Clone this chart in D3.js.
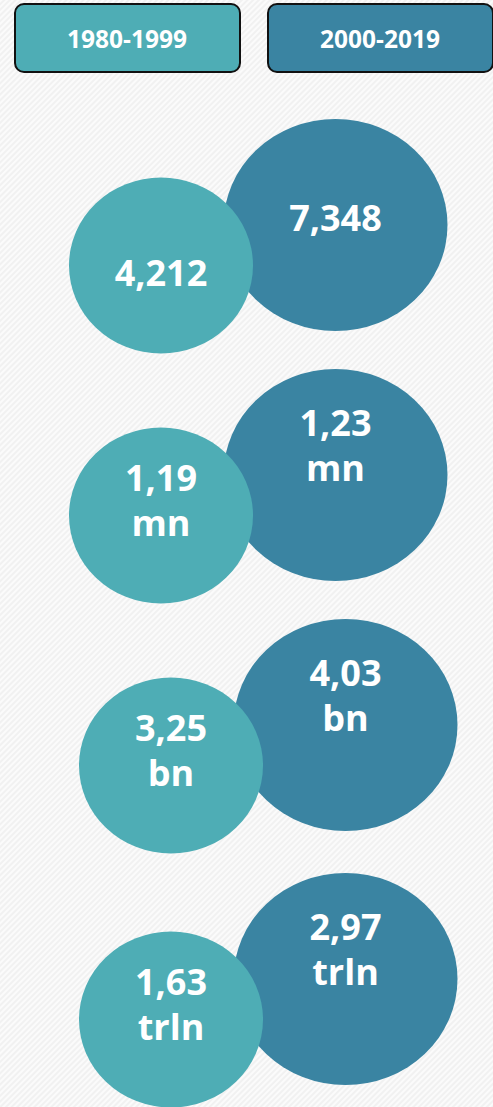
<!DOCTYPE html>
<html>
<head>
<meta charset="utf-8">
<script src="https://cdn.jsdelivr.net/npm/d3@7/dist/d3.min.js"></script>
<style>
  html, body { margin: 0; padding: 0; background: #f3f3f3; }
  svg { display: block; }
  text { font-family: "Open Sans", "Noto Sans", sans-serif; font-weight: 700; fill: #ffffff; }
</style>
</head>
<body>
<script>
// ---- data ----
const periods = ["1980-1999", "2000-2019"];
const metrics = ["m1", "m2", "m3", "m4"];
const valuesEarly = ["4,212", "1,19", "3,25", "1,63"];
const valuesLate  = ["7,348", "1,23", "4,03", "2,97"];
const units       = ["", "mn", "bn", "trln"];
const colors = ["#4eadb5", "#3a84a2"];

// ---- layout ----
const W = 493, H = 1107;
const svg = d3.select("body").append("svg").attr("width", W).attr("height", H);

const defs = svg.append("defs");
const pat = defs.append("pattern")
  .attr("id", "stripes").attr("patternUnits", "userSpaceOnUse")
  .attr("width", 4).attr("height", 4)
  .attr("patternTransform", "rotate(45)");
pat.append("rect").attr("width", 4).attr("height", 4).attr("fill", "#f1f1f1");
pat.append("rect").attr("width", 2).attr("height", 4).attr("fill", "#fbfbfb");
svg.append("rect").attr("width", W).attr("height", H).attr("fill", "url(#stripes)");

// legend boxes
const legendX = d3.scalePoint().domain(periods).range([15, 268]);
const lg = svg.append("g").selectAll("g").data(periods).join("g")
  .attr("transform", d => `translate(${legendX(d)},4)`);
lg.append("rect")
  .attr("width", 225).attr("height", 68).attr("rx", 9).attr("ry", 9)
  .attr("fill", (d, i) => colors[i]).attr("stroke", "#111").attr("stroke-width", 2);
lg.append("text")
  .attr("x", 112).attr("y", 44).attr("text-anchor", "middle")
  .attr("font-size", 24.5).text(d => d);

// bubbles
const rowY = d3.scalePoint().domain(metrics).range([265.5, 1015.5]);
const rowNudgeX = [0, 0, 10, 10];
const rowNudgeY = [0, 0, 0, 4];
const lineH = 45;

const rows = metrics.map((m, i) => ({
  m, i,
  early: valuesEarly[i], late: valuesLate[i], unit: units[i]
}));

const rg = svg.append("g").selectAll("g").data(rows).join("g")
  .attr("transform", d => `translate(${rowNudgeX[d.i]},${rowY(d.m) + rowNudgeY[d.i]})`);

// dark (later period) bubble behind
rg.append("ellipse")
  .attr("cx", 335.5).attr("cy", -40.5).attr("rx", 112).attr("ry", 106)
  .attr("fill", colors[1]);
// light (earlier period) bubble on top
rg.append("ellipse")
  .attr("cx", 161).attr("cy", 0).attr("rx", 92).attr("ry", 88)
  .attr("fill", colors[0]);

function addLabel(sel, cx, lastBaseline, getVal) {
  sel.each(function(d) {
    const lines = d.unit ? [getVal(d), d.unit] : [getVal(d)];
    const t = d3.select(this).append("text")
      .attr("text-anchor", "middle").attr("font-size", 36);
    lines.forEach((ln, k) => {
      t.append("tspan").attr("x", cx)
        .attr("y", lastBaseline - (lines.length - 1 - k) * lineH)
        .text(ln);
    });
  });
}
addLabel(rg, 335.5, -40.5 + 6, d => d.late);
addLabel(rg, 161, 20, d => d.early);
</script>
</body>
</html>
